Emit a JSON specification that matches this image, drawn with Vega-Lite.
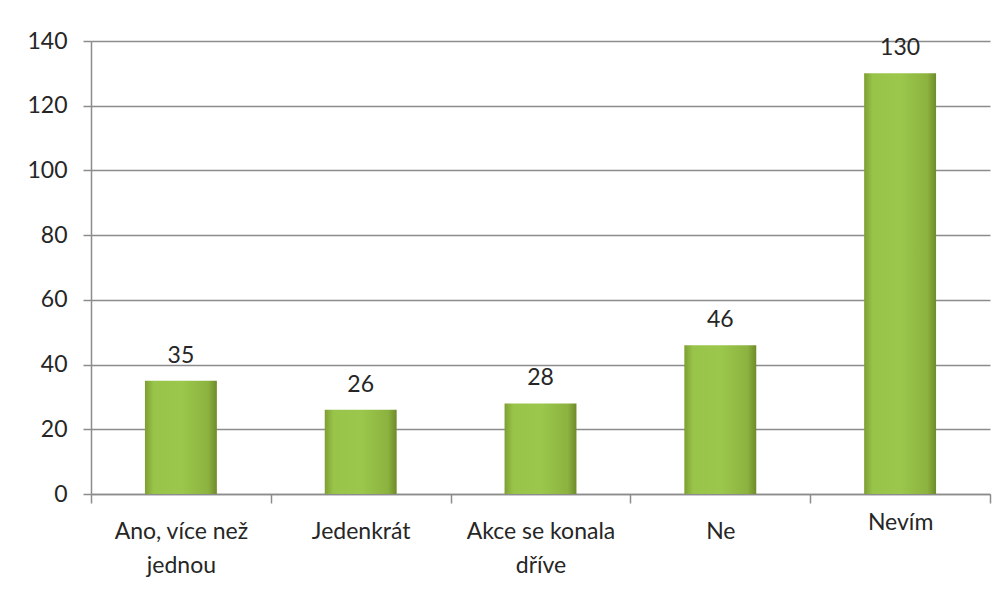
{
  "$schema": "https://vega.github.io/schema/vega-lite/v6.json",
  "width": 899,
  "height": 453,
  "autosize": {"type": "none"},
  "padding": {"left": 91, "top": 41, "right": 13, "bottom": 96},
  "background": "white",
  "config": {
    "view": {"stroke": null},
    "font": "Lato"
  },
  "data": {
    "values": [
      {"kategorie": "Ano, více než jednou", "pocet": 35},
      {"kategorie": "Jedenkrát", "pocet": 26},
      {"kategorie": "Akce se konala dříve", "pocet": 28},
      {"kategorie": "Ne", "pocet": 46},
      {"kategorie": "Nevím", "pocet": 130}
    ]
  },
  "encoding": {
    "x": {
      "field": "kategorie",
      "type": "nominal",
      "sort": null,
      "title": null,
      "scale": {"paddingInner": 0, "paddingOuter": 0},
      "axis": {
        "labelAngle": 0,
        "labelFont": "Lato",
        "labelFontSize": 23,
        "labelColor": "#262626",
        "labelLineHeight": 34,
        "labelPadding": {"condition": {"test": "datum.value === 'Nevím'", "value": 19}, "value": 28},
        "labelBaseline": "middle",
        "labelExpr": "datum.value === 'Ano, více než jednou' ? ['Ano, více než', 'jednou'] : datum.value === 'Akce se konala dříve' ? ['Akce se konala', 'dříve'] : datum.value",
        "ticks": true,
        "tickBand": "extent",
        "tickSize": 9,
        "tickColor": "#8c8c8c",
        "tickWidth": 1.5,
        "domainColor": "#8c8c8c",
        "domainWidth": 1.5,
        "labelLimit": 300
      }
    },
    "y": {
      "field": "pocet",
      "type": "quantitative",
      "title": null,
      "scale": {"domain": [0, 140], "nice": false},
      "axis": {
        "values": [0, 20, 40, 60, 80, 100, 120, 140],
        "labelFont": "Lato",
        "labelFontSize": 23,
        "labelColor": "#262626",
        "labelPadding": 16,
        "tickSize": 8,
        "tickColor": "#8c8c8c",
        "tickWidth": 1.5,
        "domainColor": "#8c8c8c",
        "domainWidth": 1.5,
        "gridColor": "#8c8c8c",
        "gridWidth": 1.5
      }
    }
  },
  "layer": [
    {
      "mark": {
        "type": "bar",
        "width": {"band": 0.4},
        "color": {
          "gradient": "linear",
          "x1": 0, "x2": 1, "y1": 0, "y2": 0,
          "stops": [
            {"offset": 0, "color": "#7e9f33"},
            {"offset": 0.12, "color": "#98c449"},
            {"offset": 0.5, "color": "#9bc84c"},
            {"offset": 0.88, "color": "#8cb23f"},
            {"offset": 1, "color": "#6d8b2a"}
          ]
        }
      }
    },
    {
      "mark": {
        "type": "text",
        "baseline": "middle",
        "dy": -25,
        "font": "Lato",
        "fontSize": 23,
        "color": "#262626"
      },
      "encoding": {
        "text": {"field": "pocet", "type": "quantitative"}
      }
    }
  ]
}
